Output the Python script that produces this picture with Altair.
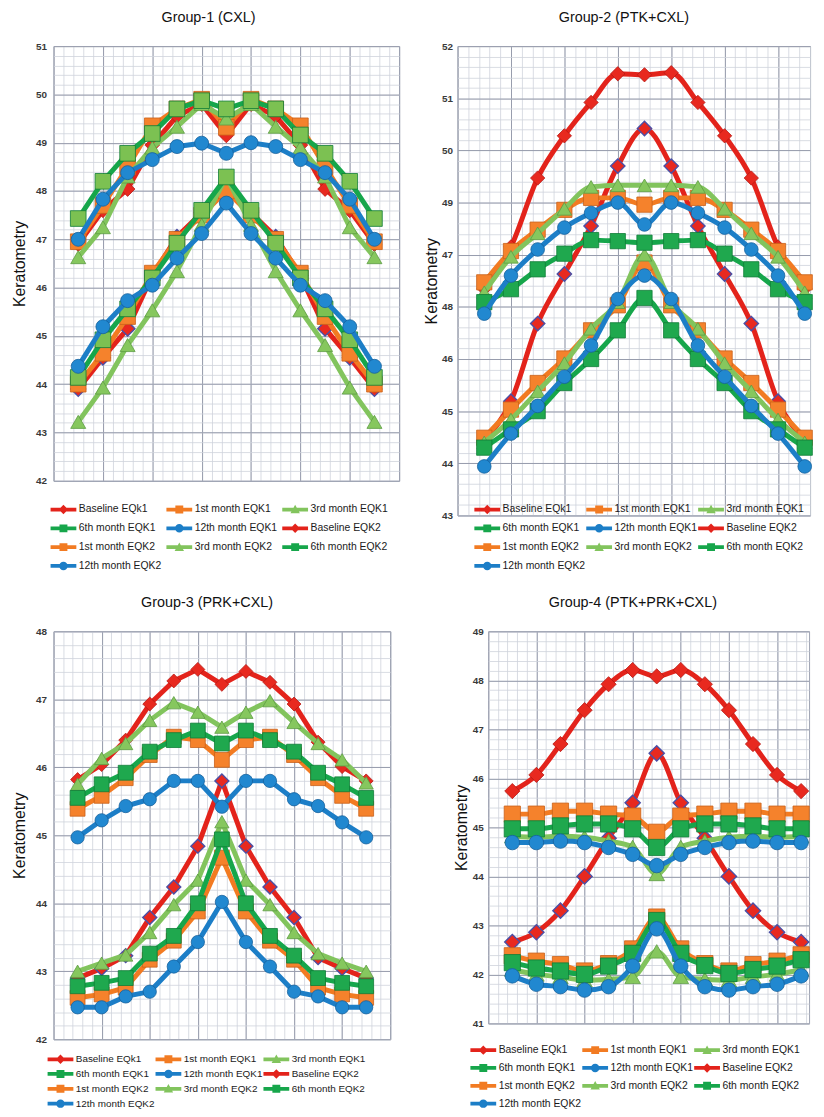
import altair as alt
import pandas as pd

# ---------------- data (13 positions per curve) ----------------
X = list(range(1, 14))
SERIES = ["Baseline EQk1", "1st month EQK1", "3rd month EQK1", "6th month EQK1", "12th month EQK1",
          "Baseline EQK2", "1st month EQK2", "3rd month EQK2", "6th month EQK2", "12th month EQK2"]
KINDS = ["base", "m1", "m3", "m6", "m12", "base", "m1", "m3", "m6", "m12"]

# Group-1 (CXL)
g1_base_k1 = [43.9, 44.55, 45.15, 46.25, 47.05, 47.55, 48.05, 47.55, 47.05, 46.25, 45.15, 44.55, 43.9]
g1_m1_k1 = [44.0, 44.64, 45.4, 46.3, 47.0, 47.5, 48.0, 47.5, 47.0, 46.3, 45.4, 44.64, 44.0]
g1_m3_k1 = [43.22, 43.93, 44.81, 45.53, 46.34, 47.3, 48.3, 47.3, 46.34, 45.53, 44.81, 43.93, 43.22]
g1_m6_k1 = [44.14, 44.92, 45.56, 46.2, 46.92, 47.6, 48.29, 47.6, 46.92, 46.2, 45.56, 44.92, 44.14]
g1_m12_k1 = [44.37, 45.19, 45.73, 46.05, 46.61, 47.12, 47.75, 47.12, 46.61, 46.05, 45.73, 45.19, 44.37]
g1_base_k2 = [46.9, 47.6, 48.04, 48.95, 49.55, 49.8, 49.15, 49.8, 49.55, 48.95, 48.04, 47.6, 46.9]
g1_m1_k2 = [46.95, 47.7, 48.5, 49.35, 49.7, 49.9, 49.32, 49.9, 49.7, 49.35, 48.5, 47.7, 46.95]
g1_m3_k2 = [46.63, 47.25, 48.3, 48.9, 49.33, 49.8, 49.5, 49.8, 49.33, 48.9, 48.3, 47.25, 46.63]
g1_m6_k2 = [47.43, 48.2, 48.78, 49.19, 49.7, 49.87, 49.7, 49.87, 49.7, 49.16, 48.78, 48.2, 47.43]
g1_m12_k2 = [47.0, 47.83, 48.38, 48.65, 48.92, 48.99, 48.78, 49.0, 48.92, 48.65, 48.38, 47.83, 47.0]

# Group-2 (PTK+CXL)
g2_base_k1 = [44.45, 45.19, 46.68, 47.63, 48.55, 49.7, 50.42, 49.7, 48.55, 47.63, 46.68, 45.19, 44.45]
g2_m1_k1 = [44.49, 45.03, 45.54, 46.01, 46.55, 47.03, 47.85, 47.03, 46.55, 46.01, 45.54, 45.03, 44.49]
g2_m3_k1 = [44.4, 44.84, 45.38, 45.92, 46.58, 47.09, 48.0, 47.09, 46.58, 45.92, 45.38, 44.84, 44.4]
g2_m6_k1 = [44.3, 44.65, 45.0, 45.54, 46.0, 46.55, 47.17, 46.55, 46.0, 45.54, 45.0, 44.65, 44.3]
g2_m12_k1 = [43.94, 44.57, 45.1, 45.66, 46.26, 47.15, 47.6, 47.15, 46.26, 45.66, 45.1, 44.57, 43.94]
g2_base_k2 = [47.35, 48.15, 49.47, 50.28, 50.92, 51.47, 51.45, 51.49, 50.92, 50.28, 49.47, 48.15, 47.35]
g2_m1_k2 = [47.47, 48.07, 48.48, 48.86, 49.09, 49.09, 48.96, 49.09, 49.09, 48.86, 48.48, 48.07, 47.47]
g2_m3_k2 = [47.28, 47.96, 48.41, 48.88, 49.3, 49.33, 49.33, 49.33, 49.3, 48.88, 48.41, 47.96, 47.28]
g2_m6_k2 = [47.09, 47.34, 47.72, 48.02, 48.28, 48.26, 48.23, 48.26, 48.28, 48.02, 47.72, 47.34, 47.09]
g2_m12_k2 = [46.87, 47.6, 48.1, 48.52, 48.8, 49.0, 48.58, 49.0, 48.8, 48.52, 48.1, 47.6, 46.87]

# Group-3 (PRK+CXL)
g3_base_k1 = [42.9, 43.04, 43.23, 43.79, 44.24, 44.84, 45.8, 44.84, 44.24, 43.79, 43.2, 43.04, 42.9]
g3_m1_k1 = [42.61, 42.66, 42.76, 43.17, 43.45, 43.88, 44.67, 43.88, 43.45, 43.17, 42.76, 42.66, 42.61]
g3_m3_k1 = [43.0, 43.12, 43.24, 43.57, 43.98, 44.34, 45.2, 44.34, 43.98, 43.57, 43.26, 43.12, 43.0]
g3_m6_k1 = [42.78, 42.83, 42.9, 43.26, 43.52, 44.0, 44.94, 44.0, 43.52, 43.23, 42.9, 42.83, 42.78]
g3_m12_k1 = [42.47, 42.47, 42.63, 42.7, 43.07, 43.43, 44.02, 43.43, 43.07, 42.7, 42.63, 42.47, 42.47]
g3_base_k2 = [45.82, 46.04, 46.4, 46.93, 47.27, 47.44, 47.22, 47.41, 47.25, 46.93, 46.37, 46.01, 45.8]
g3_m1_k2 = [45.39, 45.58, 45.84, 46.18, 46.45, 46.4, 46.11, 46.4, 46.45, 46.18, 45.84, 45.58, 45.39]
g3_m3_k2 = [45.75, 46.13, 46.35, 46.69, 46.95, 46.81, 46.59, 46.81, 46.98, 46.66, 46.35, 46.11, 45.77]
g3_m6_k2 = [45.55, 45.75, 45.92, 46.23, 46.4, 46.54, 46.35, 46.54, 46.4, 46.23, 45.92, 45.75, 45.55]
g3_m12_k2 = [44.97, 45.22, 45.43, 45.53, 45.8, 45.8, 45.42, 45.8, 45.8, 45.53, 45.43, 45.19, 44.97]

# Group-4 (PTK+PRK+CXL)
g4_base_k1 = [42.66, 42.86, 43.3, 44.0, 44.78, 45.5, 46.51, 45.5, 44.78, 44.0, 43.3, 42.86, 42.66]
g4_m1_k1 = [42.38, 42.27, 42.2, 42.07, 42.22, 42.52, 43.17, 42.52, 42.22, 42.07, 42.2, 42.27, 42.4]
g4_m3_k1 = [42.1, 42.0, 41.95, 41.88, 41.9, 41.95, 42.47, 41.95, 41.9, 41.88, 41.95, 42.0, 42.1]
g4_m6_k1 = [42.24, 42.13, 42.07, 42.0, 42.17, 42.43, 43.1, 42.43, 42.18, 42.02, 42.1, 42.17, 42.3]
g4_m12_k1 = [41.97, 41.8, 41.75, 41.68, 41.75, 42.17, 42.93, 42.17, 41.75, 41.68, 41.75, 41.8, 41.97]
g4_base_k2 = [45.74, 46.07, 46.7, 47.39, 47.92, 48.21, 48.08, 48.21, 47.92, 47.39, 46.7, 46.07, 45.74]
g4_m1_k2 = [45.27, 45.27, 45.33, 45.33, 45.27, 45.23, 44.9, 45.23, 45.27, 45.33, 45.33, 45.27, 45.27]
g4_m3_k2 = [44.82, 44.8, 44.82, 44.8, 44.72, 44.6, 44.05, 44.6, 44.72, 44.8, 44.82, 44.8, 44.82]
g4_m6_k2 = [44.97, 44.97, 45.03, 45.07, 45.07, 44.97, 44.59, 44.97, 45.07, 45.07, 45.03, 44.97, 44.97]
g4_m12_k2 = [44.69, 44.69, 44.72, 44.69, 44.59, 44.45, 44.22, 44.45, 44.59, 44.69, 44.72, 44.69, 44.69]

G1 = [g1_base_k1, g1_m1_k1, g1_m3_k1, g1_m6_k1, g1_m12_k1, g1_base_k2, g1_m1_k2, g1_m3_k2, g1_m6_k2, g1_m12_k2]
G2 = [g2_base_k1, g2_m1_k1, g2_m3_k1, g2_m6_k1, g2_m12_k1, g2_base_k2, g2_m1_k2, g2_m3_k2, g2_m6_k2, g2_m12_k2]
G3 = [g3_base_k1, g3_m1_k1, g3_m3_k1, g3_m6_k1, g3_m12_k1, g3_base_k2, g3_m1_k2, g3_m3_k2, g3_m6_k2, g3_m12_k2]
G4 = [g4_base_k1, g4_m1_k1, g4_m3_k1, g4_m6_k1, g4_m12_k1, g4_base_k2, g4_m1_k2, g4_m3_k2, g4_m6_k2, g4_m12_k2]

# ---------------- styles ----------------
FONT = "Liberation Sans"
LINE_COL = {"base": "#e3231b", "m1": "#f27b22", "m3": "#82c45d", "m6": "#16a64b", "m12": "#1c7ec7"}
FILL_COL = {"base": "#e8291f", "m1": "#f5822c", "m3": "#86c75e", "m6": "#1fa84e", "m12": "#2188d0"}
EDGE_COL = {"base": "#b41a14", "m1": "#c8601a", "m3": "#5d9c43", "m6": "#0f7c36", "m12": "#15609c"}
SHAPE = {"base": "diamond", "m1": "square", "m3": "triangle-up", "m6": "square", "m12": "circle"}
SIZE_F = {"base": 1.1, "m1": 1.25, "m3": 1.15, "m6": 1.25, "m12": 1.0}

BAND = "M-1.37,-0.2L1.37,-0.2L1.37,0.2L-1.37,0.2Z"
LEG_MARK = {
    "base": "M0,-0.5L0.5,0L0,0.5L-0.5,0Z",
    "m1": "M-0.42,-0.42L0.42,-0.42L0.42,0.42L-0.42,0.42Z",
    "m3": "M0,-0.5L0.5,0.4L-0.5,0.4Z",
    "m6": "M-0.42,-0.42L0.42,-0.42L0.42,0.42L-0.42,0.42Z",
    "m12": "M-0.45,0A0.45,0.45 0 1,1 0.45,0A0.45,0.45 0 1,1 -0.45,0Z",
}


def frange(start, stop, step):
    out, i = [], 0
    while start + i * step <= stop + 1e-9:
        out.append(round(start + i * step, 4))
        i += 1
    return out


def panel(title, curves, ymin, ymax, w, h, xmax, interp, legx, legy,
          title_dx=0, swap=False, msize=190, light6=False, label_pad=7, title_pad=8.5,
          leg_font=10.5, col_pad=4, row_pad=4):
    xs = alt.Scale(domain=[0, xmax], nice=False, zero=False)
    ys = alt.Scale(domain=[ymin, ymax], nice=False, zero=False)
    dummy = pd.DataFrame({"x": [-100.0], "y": [ymin - 100.0]})

    minor = alt.Chart(dummy).mark_point(opacity=0, clip=True).encode(
        x=alt.X("x:Q", scale=xs, axis=alt.Axis(values=frange(0, xmax, 0.4), grid=True, gridColor="#cfd2dc",
                                                gridWidth=0.8, labels=False, ticks=False, domain=False,
                                                title=None, orient="bottom")),
        y=alt.Y("y:Q", scale=ys, axis=alt.Axis(values=frange(ymin, ymax, 0.2), grid=True, gridColor="#cfd2dc",
                                                gridWidth=0.8, labels=False, ticks=False, domain=False,
                                                title=None, orient="left")),
    )
    lab_expr = "datum.label"
    if swap:
        lab_expr = "datum.value == 48 ? '47' : datum.value == 47 ? '48' : datum.label"
    major = alt.Chart(dummy).mark_point(opacity=0, clip=True).encode(
        x=alt.X("x:Q", scale=xs, axis=alt.Axis(values=frange(0, xmax, 2), grid=True, gridColor="#979cac",
                                                gridWidth=1, labels=False, ticks=False, domain=False,
                                                title=None, orient="bottom")),
        y=alt.Y("y:Q", scale=ys, axis=alt.Axis(values=list(range(ymin, ymax + 1)), grid=True,
                                                gridColor="#979cac", gridWidth=1, labels=True, ticks=False,
                                                domain=False, orient="left", labelExpr=lab_expr,
                                                labelFont=FONT, labelFontSize=10, labelFontWeight="bold",
                                                labelColor="#3a3a3a", labelPadding=label_pad,
                                                title="Keratometry", titleFont=FONT, titleFontSize=16,
                                                titleFontWeight="normal", titleColor="#111111",
                                                titlePadding=title_pad)),
    )
    layers = [minor, major]
    for name, kind, vals in zip(SERIES, KINDS, curves):
        df = pd.DataFrame({"x": X, "y": vals})
        enc = dict(x=alt.X("x:Q", scale=xs, axis=None), y=alt.Y("y:Q", scale=ys, axis=None))
        layers.append(alt.Chart(df).mark_line(color=LINE_COL[kind], strokeWidth=5, interpolate=interp,
                                              strokeJoin="round", strokeCap="round").encode(**enc))
        fill = FILL_COL[kind]
        if light6 and kind == "m6":
            fill = "#7cc152"
        edge = EDGE_COL[kind]
        sw = 0.8
        if name == "Baseline EQk1":
            edge, sw = "#4a4fa6", 1.4
        layers.append(alt.Chart(df).mark_point(filled=True, shape=SHAPE[kind], size=msize * SIZE_F[kind],
                                               fill=fill, stroke=edge, strokeWidth=sw,
                                               opacity=1).encode(**enc))

    leg_df = pd.DataFrame({"series": SERIES, "x": [-100.0] * 10, "y": [ymin - 100.0] * 10})
    leg_colors = [LINE_COL[k] for k in KINDS]
    leg_paths = [BAND + " " + LEG_MARK[k] for k in KINDS]
    legend = alt.Legend(title=None, orient="none", legendX=legx, legendY=legy, columns=3,
                        direction="horizontal",
                        symbolSize=361, symbolStrokeWidth=0, symbolOpacity=1, labelFont=FONT,
                        labelFontSize=leg_font, labelColor="#1a1a1a", labelOffset=6, rowPadding=row_pad,
                        columnPadding=col_pad, padding=0, gridAlign="all", labelLimit=200)
    leg = alt.Chart(leg_df).mark_point(filled=True, clip=True, opacity=1).encode(
        x=alt.X("x:Q", scale=xs, axis=None),
        y=alt.Y("y:Q", scale=ys, axis=None),
        color=alt.Color("series:N", scale=alt.Scale(domain=SERIES, range=leg_colors), legend=legend),
        shape=alt.Shape("series:N", scale=alt.Scale(domain=SERIES, range=leg_paths), legend=legend),
    )
    layers.append(leg)
    return alt.layer(*layers).resolve_axis(x="independent", y="independent").properties(
        width=w, height=h,
        title=alt.TitleParams(title, font=FONT, fontSize=14.5, fontWeight="normal", color="#111111",
                              anchor="middle", offset=16, dx=title_dx),
    )


p1 = panel("Group-1 (CXL)", G1, 42, 51, 349, 439, 14, "linear", 0.5, 458.5, title_dx=-18,
           msize=200, light6=True)
p2 = panel("Group-2 (PTK+CXL)", G2, 43, 52, 356, 474, 13.2, "monotone", 20.5, 458.5,
           title_dx=-10, swap=True, label_pad=5, title_pad=2.5, col_pad=0, msize=190)
p3 = panel("Group-3 (PRK+CXL)", G3, 42, 48, 340, 412, 14, "linear", -2.5, 422.5, title_dx=-15,
           msize=180, leg_font=10, col_pad=0, row_pad=0)
p4 = panel("Group-4 (PTK+PRK+CXL)", G4, 41, 49, 324, 396, 13.33, "monotone", -14.5, 413.5,
           title_dx=-16, label_pad=5, title_pad=2.5, col_pad=0, row_pad=3, msize=215)

row1 = alt.hconcat(p1, p2, spacing=22).resolve_scale(color="independent", shape="independent")
row2 = alt.hconcat(p3, p4, spacing=62).resolve_scale(color="independent", shape="independent")
chart = alt.vconcat(row1, row2, spacing=23).resolve_scale(
    color="independent", shape="independent"
).properties(
    padding={"left": 2, "top": -4, "right": 0, "bottom": 0},
    background="white",
).configure_view(stroke="#9ca1b0", strokeWidth=1)

chart.save("out.html", embed_options={"renderer": "svg", "actions": False})
